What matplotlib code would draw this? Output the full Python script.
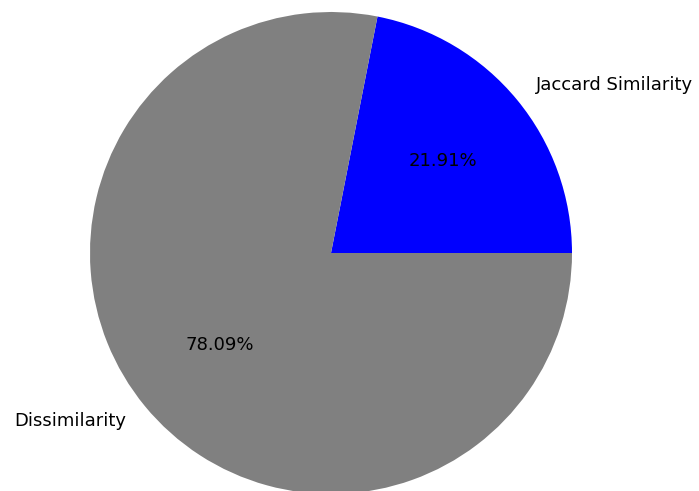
import matplotlib
matplotlib.use("Agg")
import matplotlib.pyplot as plt

labels = ["Jaccard Similarity", "Dissimilarity"]
values = [21.91, 78.09]
colors = ["blue", "gray"]

fig = plt.figure(figsize=(6.99, 4.91), dpi=100)
ax = fig.add_axes([0, 0, 1, 1])
ax.pie(values, labels=labels, colors=colors, autopct="%1.2f%%",
       textprops={"fontsize": 13})
ax.set_aspect("equal")
ax.set_xlim(-331 / 241, (699 - 331) / 241)
ax.set_ylim(-(491 - 253) / 241, 253 / 241)
ax.axis("off")
fig.savefig("out.png", dpi=100)
